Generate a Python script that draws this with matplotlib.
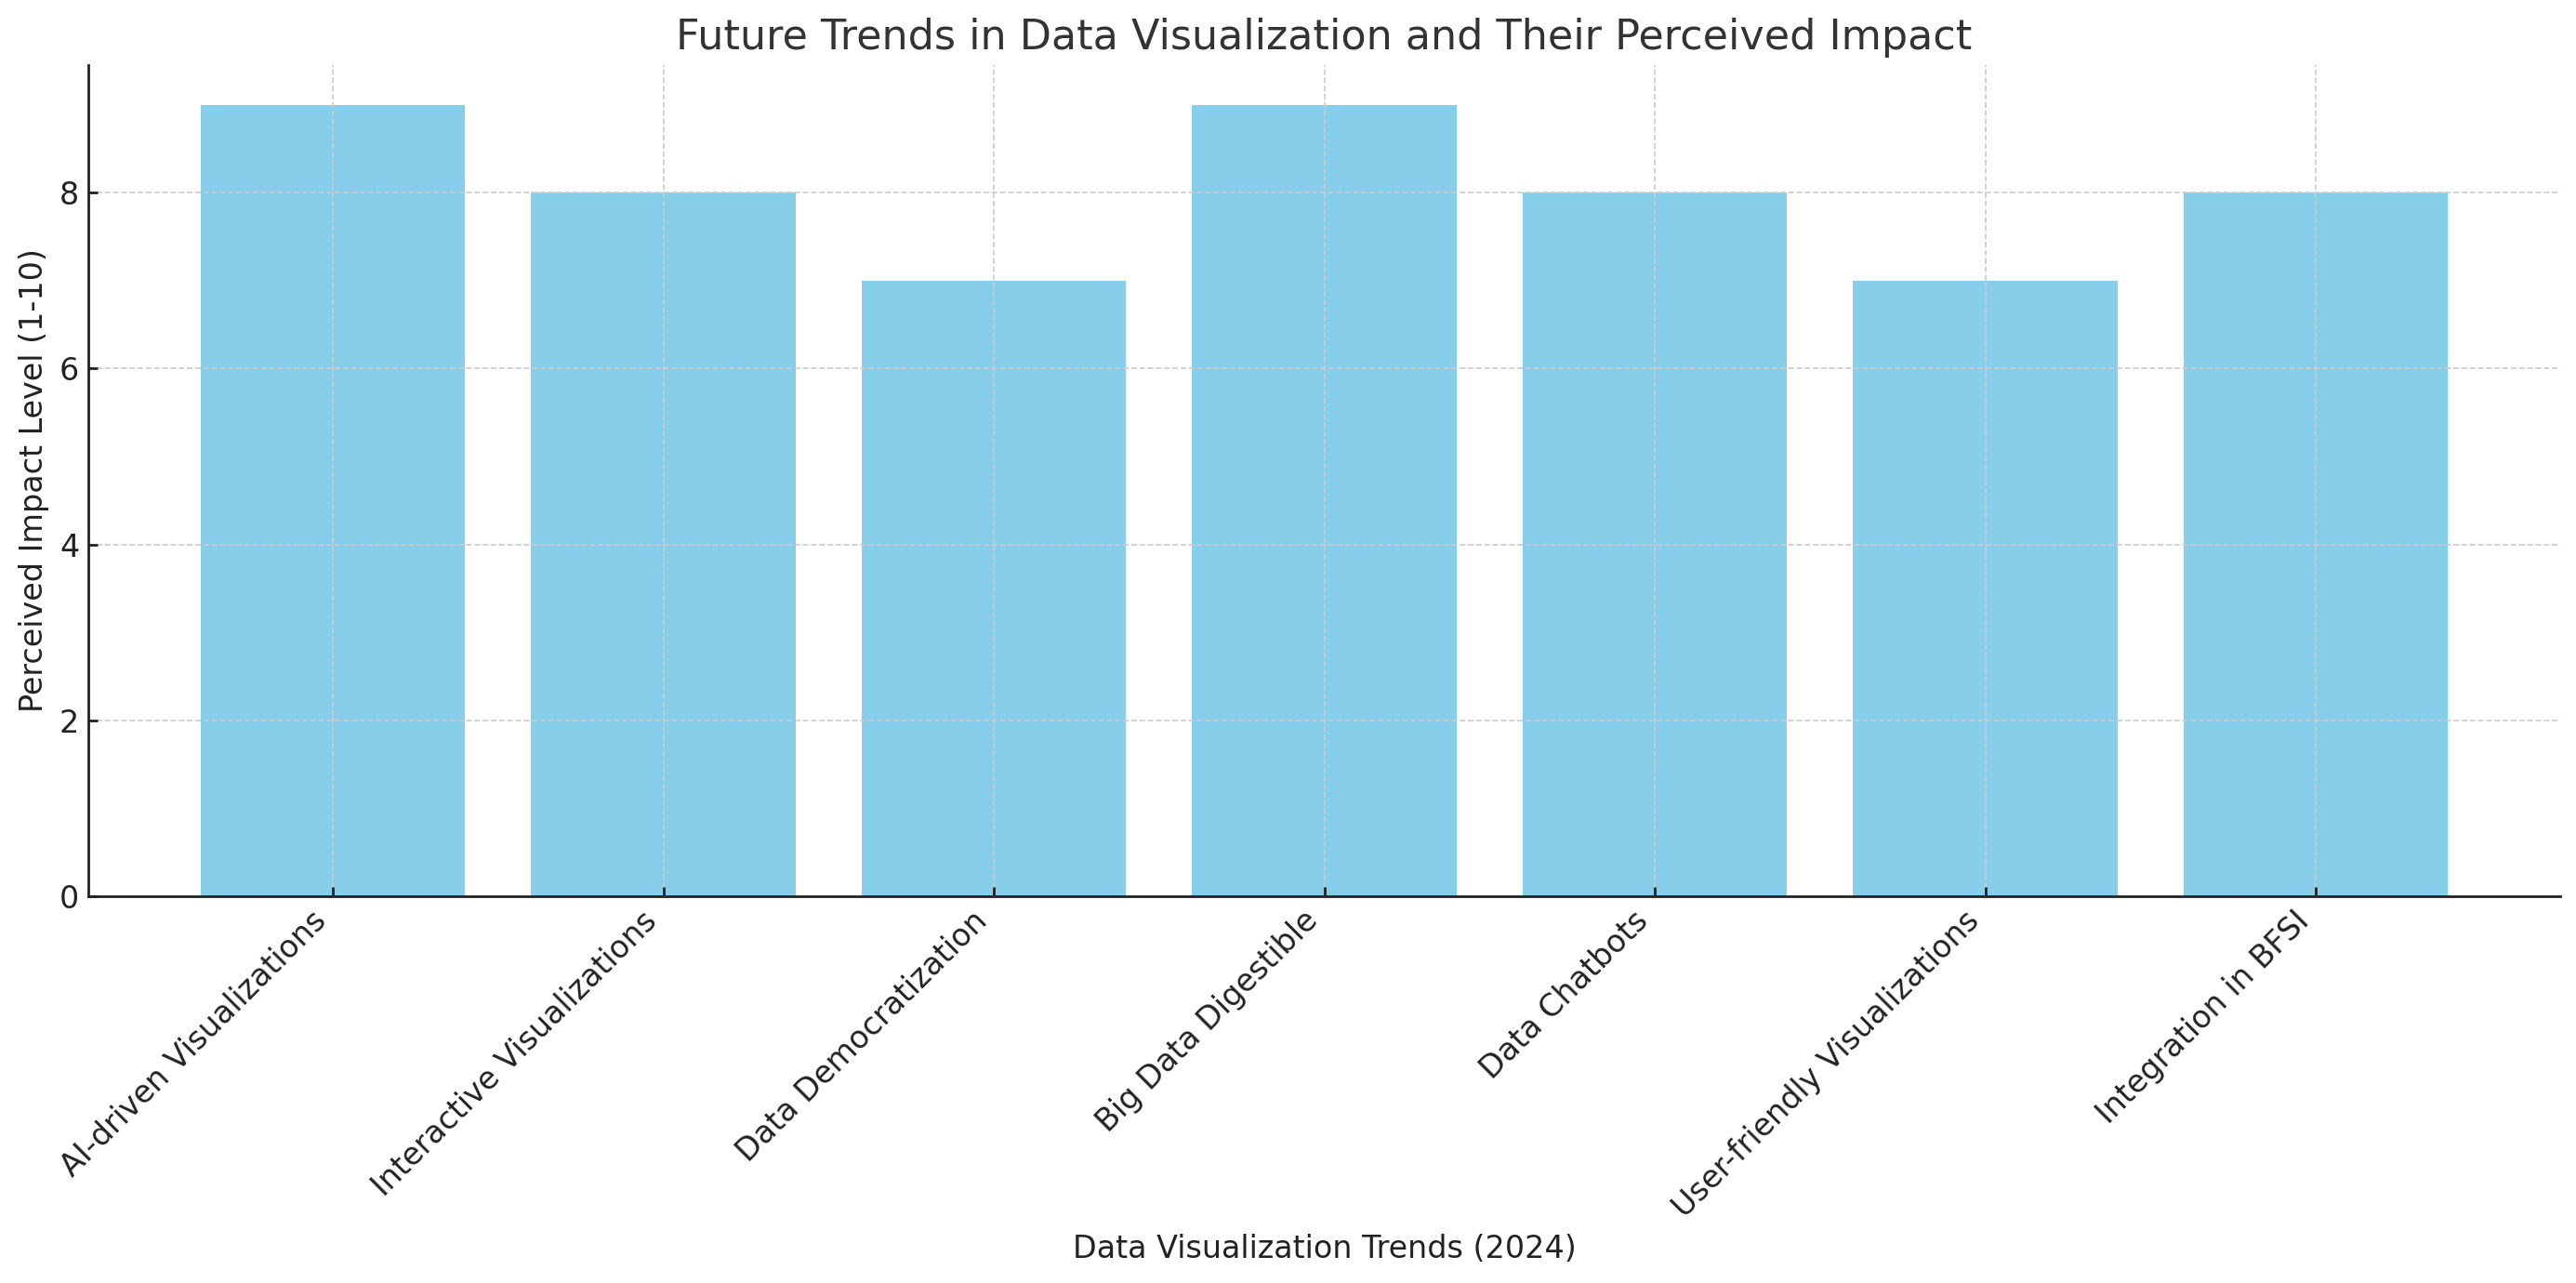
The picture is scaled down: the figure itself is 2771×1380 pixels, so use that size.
#!/usr/bin/env python
# plot.py - bar chart of data visualization trends and their perceived impact
import matplotlib
matplotlib.use("Agg")
from matplotlib import pyplot as plt

# Trend names and their impact scores (1-10)
trends = [
    "AI-driven Visualizations",
    "Interactive Visualizations",
    "Data Democratization",
    "Big Data Digestible",
    "Data Chatbots",
    "User-friendly Visualizations",
    "Integration in BFSI",
]
impact = [9, 8, 7, 9, 8, 7, 8]

plt.rcParams['font.family'] = ['DejaVu Sans']

fig = plt.figure(figsize=(2771 / 200, 1380 / 200), dpi=200)
ax = fig.add_subplot(111)
fig.subplots_adjust(left=0.0343, right=0.9939, top=0.9493, bottom=0.3014)

ax.bar(trends, impact, color='skyblue')

# Title and axis labels
ax.set_title('Future Trends in Data Visualization and Their Perceived Impact',
             fontsize=16, color='#333333')
ax.set_xlabel('Data Visualization Trends (2024)', fontsize=12, color='#222222')
ax.set_ylabel('Perceived Impact Level (1-10)', fontsize=12, color='#222222')

# Rotate trend names so they fit
plt.setp(ax.get_xticklabels(), rotation=45, ha='right')
ax.tick_params(axis='both', direction='in', length=3.6, width=1.0,
               labelsize=12, colors='#222222')

# Dashed grid on both axes, top/right frame off
ax.grid(True, linestyle='--', linewidth=0.6, color='#cccccc')
for side in ['top', 'right']:
    ax.spines[side].set_visible(False)
for side in ['left', 'bottom']:
    ax.spines[side].set_linewidth(1.0)
    ax.spines[side].set_color('#222222')

plt.savefig("out.png", dpi=200)
